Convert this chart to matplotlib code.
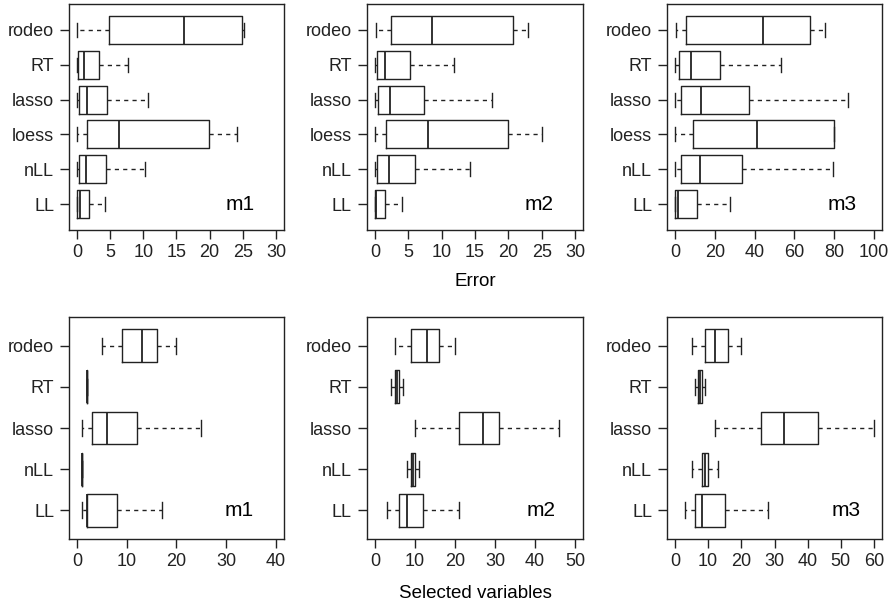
import matplotlib
matplotlib.use('Agg')
import matplotlib.pyplot as plt

plt.rcParams['font.family'] = ['Liberation Sans', 'DejaVu Sans']
plt.rcParams['font.size'] = 13

# methods, listed bottom to top
methods_err = ['LL', 'nLL', 'loess', 'lasso', 'RT', 'rodeo']
methods_sel = ['LL', 'nLL', 'lasso', 'RT', 'rodeo']

# box stats per method: [whisker low, q1, median, q3, whisker high]
err_m1 = [[0, 0.05, 0.45, 1.85, 4.2],
          [0, 0.25, 1.35, 4.35, 10.25],
          [0, 1.45, 6.3, 19.85, 24.1],
          [0, 0.25, 1.55, 4.5, 10.75],
          [0, 0.15, 1.0, 3.3, 7.7],
          [0, 4.9, 16.2, 24.8, 25.1]]
err_m2 = [[0, 0.0, 0.2, 1.55, 4.0],
          [0, 0.35, 2.05, 6.0, 14.3],
          [0, 1.6, 7.95, 20.0, 25.0],
          [0.05, 0.5, 2.25, 7.4, 17.5],
          [0, 0.25, 1.55, 5.2, 11.9],
          [0.1, 2.4, 8.5, 20.75, 22.9]]
err_m3 = [[0, 0.2, 1.7, 11.2, 27.6],
          [0, 2.8, 12.4, 33.7, 79.4],
          [0, 8.9, 41.2, 80.0, 80.0],
          [0, 3.2, 13.2, 37.3, 87.0],
          [0, 1.8, 8.2, 22.6, 53.3],
          [0.7, 5.7, 44.3, 68.0, 75.2]]
sel_m1 = [[1, 2, 2, 8, 17],
          [1, 1, 1, 1, 1],
          [1, 3, 6, 12, 25],
          [2, 2, 2, 2, 2],
          [5, 9, 13, 16, 20]]
sel_m2 = [[3, 6, 8, 12, 21],
          [8, 9, 9.5, 10, 11],
          [10, 21, 27, 31, 46],
          [4, 5, 5.5, 6, 7],
          [5, 9, 13, 16, 20]]
sel_m3 = [[3, 6, 8, 15, 28],
          [5, 8, 9, 10, 13],
          [12, 26, 33, 43, 60],
          [6, 7, 7.5, 8, 9],
          [5, 9, 12, 16, 20]]

# (stats, methods, label, x max, x tick step, label x, axes rect in px)
panels = [
    (err_m1, methods_err, 'm1', 30, 5, 24.6, (69, 4, 215, 226)),
    (err_m2, methods_err, 'm2', 30, 5, 24.6, (367, 4, 216, 226)),
    (err_m3, methods_err, 'm3', 100, 20, 84.2, (667, 4, 215, 226)),
    (sel_m1, methods_sel, 'm1', 40, 10, 32.6, (69, 317, 215, 222)),
    (sel_m2, methods_sel, 'm2', 50, 10, 41.5, (367, 317, 216, 222)),
    (sel_m3, methods_sel, 'm3', 60, 10, 51.7, (667, 317, 215, 222)),
]

W, H = 895, 606
fig = plt.figure(figsize=(W / 100, H / 100), dpi=100)

lw = 1.0
for stats, names, tag, xmax, step, tx, (px, py, pw, ph) in panels:
    ax = fig.add_axes([px / W, 1 - (py + ph) / H, pw / W, ph / H])
    bxp_stats = []
    for name, (lo, q1, med, q3, hi) in zip(names, stats):
        bxp_stats.append(dict(label=name, whislo=lo, q1=q1, med=med,
                              q3=q3, whishi=hi, fliers=[]))
    ax.bxp(bxp_stats, positions=range(1, len(names) + 1), vert=False,
           widths=0.8, capwidths=0.4, showfliers=False,
           boxprops=dict(color='#222222', linewidth=lw),
           medianprops=dict(color='#222222', linewidth=1.3),
           whiskerprops=dict(color='#222222', linewidth=lw,
                             linestyle=(0, (3, 3))),
           capprops=dict(color='#222222', linewidth=lw))
    n = len(names)
    pad = 0.04 * n
    ax.set_ylim(0.5 - pad, n + 0.5 + pad)
    ax.set_xlim(-0.04 * xmax, 1.04 * xmax)
    ax.set_xticks(range(0, xmax + 1, step))
    ax.set_yticks(range(1, n + 1))
    ax.set_yticklabels(names)
    ax.tick_params(direction='out', length=6.8, width=lw, pad=3.5,
                   labelsize=13, colors='#222222')
    ax.tick_params(axis='y', pad=4)
    for sp in ax.spines.values():
        sp.set_linewidth(lw)
        sp.set_color('#222222')
    ax.text(tx, 1, tag, ha='center', va='center', fontsize=15)

fig.text(475 / W, 1 - 282 / H, 'Error', ha='center', va='center', fontsize=13.5)
fig.text(475 / W, 1 - 593 / H, 'Selected variables', ha='center',
         va='center', fontsize=13.5)

fig.savefig('out.png', dpi=100)
